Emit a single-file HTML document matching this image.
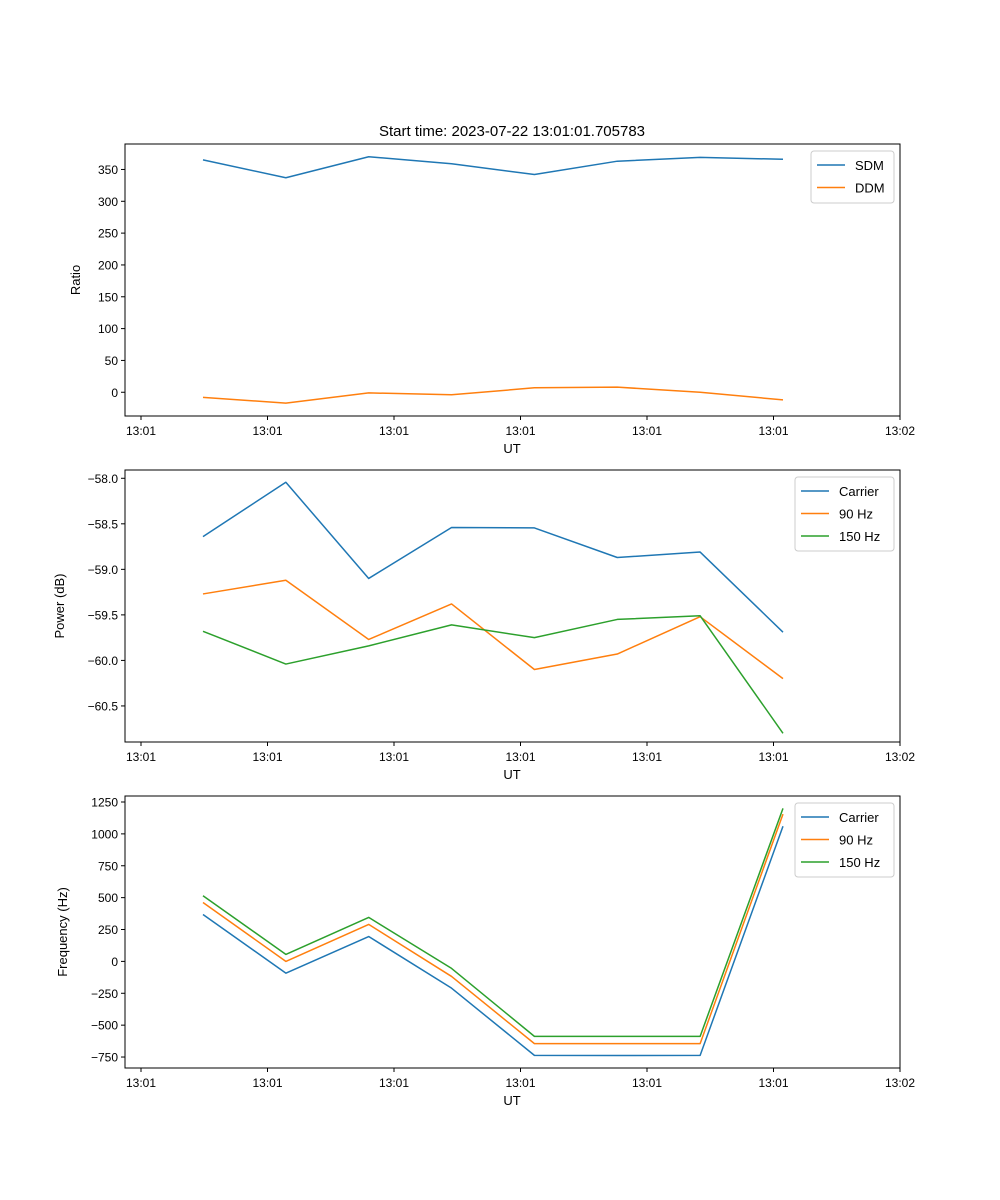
<!DOCTYPE html>
<html><head><meta charset="utf-8"><style>
body{margin:0;background:#fff}
svg{display:block;font-family:"Liberation Sans","DejaVu Sans",sans-serif}
</style></head><body>
<svg id="fig" width="1000" height="1200" xmlns="http://www.w3.org/2000/svg">
<rect width="1000" height="1200" fill="#fff"/>
<text x="512" y="136" font-size="15" text-anchor="middle">Start time: 2023-07-22 13:01:01.705783</text>
</svg>
<script>
const times=[0.49,1.145,1.80,2.455,3.11,3.765,4.42,5.075];
const xTickLabels=["13:01","13:01","13:01","13:01","13:01","13:01","13:02"];
const sdm=[365,337,370,359,342,363,369,366];
const ddm=[-8,-17,-1,-4,7,8,0,-12];
const pCarrier=[-58.64,-58.044,-59.10,-58.54,-58.545,-58.87,-58.81,-59.69];
const p90=[-59.27,-59.12,-59.77,-59.38,-60.10,-59.93,-59.52,-60.20];
const p150=[-59.68,-60.04,-59.84,-59.61,-59.75,-59.55,-59.51,-60.80];
const fCarrier=[368,-92,195,-210,-737,-738,-737,1060];
const f90=[462,0,290,-118,-645,-645,-645,1155];
const f150=[515,55,345,-55,-588,-588,-588,1200];
const yTicks1=[0,50,100,150,200,250,300,350];
const yTicks2=[-58.0,-58.5,-59.0,-59.5,-60.0,-60.5];
const yTicks3=[1250,1000,750,500,250,0,-250,-500,-750];

const NS="http://www.w3.org/2000/svg";
const svg=document.getElementById('fig');
const C={blue:"#1f77b4",orange:"#ff7f0e",green:"#2ca02c"};
function el(tag,attrs,parent){const e=document.createElementNS(NS,tag);for(const k in attrs)e.setAttribute(k,attrs[k]);(parent||svg).appendChild(e);return e;}
function fmt(v,dec){const s=Math.abs(v).toFixed(dec);return (v<0?"\u2212":"")+s;}

function panel(o){
  const L=125,R=900,T=o.top,B=o.top+272;
  const xs=t=>141+(t)*126.5;
  const ys=v=>B-(v-o.ymin)/(o.ymax-o.ymin)*(B-T);
  const g=el('g',{});
  
  
  // series
  o.series.forEach(s=>{
    const pts=times.map((t,i)=>xs(t).toFixed(2)+","+ys(s.vals[i]).toFixed(2)).join(" ");
    const pl=el('polyline',{points:pts,fill:"none",stroke:s.color,"stroke-width":1.5,"stroke-linejoin":"round"},g);
    
    
  });
  const fr=el('rect',{x:L,y:T,width:R-L,height:B-T,fill:"none",stroke:"#000","stroke-width":1},g);
  
  
  xTickLabels.forEach((lab,i)=>{
    const x=xs(i);
    el('line',{x1:x,x2:x,y1:B,y2:B+4,stroke:"#000"},g);
    const t=el('text',{x:x,y:B+19,"font-size":12,"text-anchor":"middle"},g);
    t.textContent=lab;
    
    
  });
  o.yticks.forEach(v=>{
    const y=ys(v);
    el('line',{x1:L-4,x2:L,y1:y,y2:y,stroke:"#000"},g);
    const t=el('text',{x:L-7,y:y+4.5,"font-size":12,"text-anchor":"end"},g);
    t.textContent=fmt(v,o.dec);
    
    
  });
  const xt=el('text',{x:512,y:B+37,"font-size":13,"text-anchor":"middle"},g);
  xt.textContent="UT";
  
  
  const yt=el('text',{x:0,y:0,"font-size":13,"text-anchor":"middle",transform:`translate(${o.ylx},${(T+B)/2}) rotate(-90)`},g);
  yt.textContent=o.ylabel;
  
  
  // legend
  const lw=o.legW,lh=8+o.series.length*22,lx=R-6-lw,ly=T+7;
  const lg=el('g',{},g);
  
  
  el('rect',{x:lx,y:ly,width:lw,height:lh,rx:3,fill:"#fff","fill-opacity":0.8,stroke:"#ccc"},lg);
  o.series.forEach((s,i)=>{
    const y=ly+14+i*22.5;
    el('line',{x1:lx+6,x2:lx+34,y1:y,y2:y,stroke:s.color,"stroke-width":1.5},lg);
    const t=el('text',{x:lx+44,y:y+5,"font-size":13},lg);
    t.textContent=s.label;
    
    
  });
}
panel({name:'ratio-panel',top:144,ymin:-37.3,ymax:390,yticks:yTicks1,dec:0,ylabel:"Ratio",ylx:80,legW:83,
  series:[{id:'sdm',label:'SDM',vals:sdm,color:C.blue},{id:'ddm',label:'DDM',vals:ddm,color:C.orange}]});
panel({name:'power-panel',top:470,ymin:-60.896,ymax:-57.909,yticks:yTicks2,dec:1,ylabel:"Power (dB)",ylx:64,legW:99,
  series:[{id:'carrier-power',label:'Carrier',vals:pCarrier,color:C.blue},{id:'90hz-power',label:'90 Hz',vals:p90,color:C.orange},{id:'150hz-power',label:'150 Hz',vals:p150,color:C.green}]});
panel({name:'frequency-panel',top:796,ymin:-836,ymax:1297,yticks:yTicks3,dec:0,ylabel:"Frequency (Hz)",ylx:67,legW:99,
  series:[{id:'carrier-freq',label:'Carrier',vals:fCarrier,color:C.blue},{id:'90hz-freq',label:'90 Hz',vals:f90,color:C.orange},{id:'150hz-freq',label:'150 Hz',vals:f150,color:C.green}]});
</script>
</body></html>
